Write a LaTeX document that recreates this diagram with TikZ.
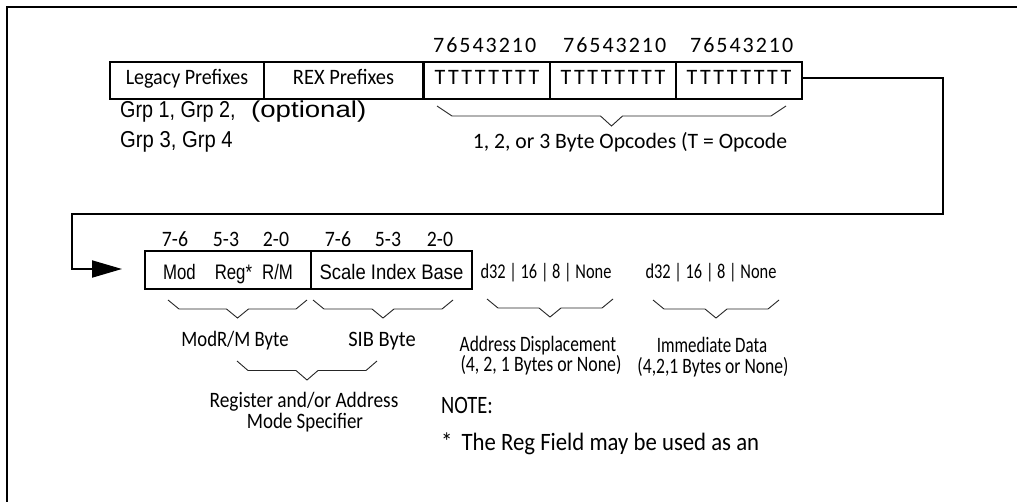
\documentclass[tikz,border=0pt]{standalone}
\usepackage{fontspec}
\usepackage{graphicx}
\usetikzlibrary{arrows.meta}
\newfontfamily\icf{Carlito}
\newfontfamily\icd[LetterSpace=9]{Carlito}
\newfontfamily\icT[LetterSpace=11]{Carlito}
\newfontfamily\arf{Liberation Sans}
\newcommand{\sx}[2]{\scalebox{#1}[1]{#2}}
\newcommand{\fsz}[1]{\fontsize{#1}{#1}\selectfont}
\newcommand{\abrace}[5]{\draw[bracel] (#1,#3) -- ++(#4,#5) -- ({(#1+#2)/2-11},{#3+#5}) -- ({(#1+#2)/2},{#3+2*#5}) -- ({(#1+#2)/2+11},{#3+#5}) -- ({#2-#4},{#3+#5}) -- (#2,#3);}
\begin{document}
\begin{tikzpicture}[x=1pt,y=-1pt,
  frameline/.style={line width=2pt},
  topbox/.style={draw, line width=2pt, inner sep=0pt, minimum height=37pt, text height=12pt, text depth=5pt},
  botbox/.style={draw, line width=2pt, inner sep=0pt, minimum height=38pt, text height=18pt, text depth=0pt},
  txt/.style={inner sep=0pt, anchor=base},
  txtl/.style={inner sep=0pt, anchor=base west},
  bracel/.style={line width=0.9pt, black!85},
  conn/.style={line width=2pt}]
\useasboundingbox (0,0) rectangle (1017,501);
\fill[white] (0,0) rectangle (1017,501);
% frame
\draw[frameline] (7,502) -- (7,7) -- (1018,7);
% top row boxes
\node[topbox, minimum width=154pt, font=\icf\fsz{22}] (legacy) at (187,80.5) {\sx{.91}{Legacy Prefixes}};
\node[topbox, minimum width=159pt, font=\icf\fsz{22}] (rex) at (343.5,80.5) {\sx{.93}{REX Prefixes}};
\node[topbox, minimum width=126pt, font=\icT\fsz{22}] (op1) at (487,80.5) {TTTTTTTT};
\node[topbox, minimum width=126pt, font=\icT\fsz{22}] (op2) at (613,80.5) {TTTTTTTT};
\node[topbox, minimum width=126pt, font=\icT\fsz{22}] (op3) at (739,80.5) {TTTTTTTT};
% bit numbers
\node[txtl, font=\icd\fsz{22}] (b1) at (433,52) {76543210};
\node[txtl, font=\icd\fsz{22}] (b2) at (563,52) {76543210};
\node[txtl, font=\icd\fsz{22}] (b3) at (690,52) {76543210};
% prefix notes
\node[txtl, font=\arf\fsz{23}] (grp1) at (120,117) {\sx{.86}{Grp 1, Grp 2,}};
\node[txtl, font=\arf\fsz{23}] (grp2) at (120,147) {\sx{.88}{Grp 3, Grp 4}};
\node[txtl, font=\arf\fsz{23}] (opt) at (251,117) {\sx{1.2}{(optional)}};
% opcode brace and label
\abrace{437}{786}{106}{15}{10}
\node[txt, font=\icf\fsz{22}] (opc) at (630,148) {\sx{.985}{1, 2, or 3 Byte Opcodes (T = Opcode}};
% connector
\coordinate (r1) at (943,78);
\coordinate (r2) at (943,214);
\coordinate (l1) at (72,214);
\coordinate (l2) at (72,269);
\coordinate (tip) at (122,269);
\draw[conn, -{Triangle[length=30pt,width=17pt]}] (op3.east |- r1) -- (r1) -- (r2) -- (l1) -- (l2) -- (tip);
% bottom boxes
\node[botbox, minimum width=166pt, font=\arf\fsz{21}] (modrm) at (228,270) {\sx{.8}{Mod}\hspace{19pt}\sx{.8}{Reg*}\hspace{10pt}\sx{.8}{R/M}};
\node[botbox, minimum width=161pt, font=\arf\fsz{21}] (sib) at (391.5,270) {\sx{.88}{Scale Index Base}};
% bit field labels
\node[txt, font=\icf\fsz{22}] (m1) at (175,246) {\sx{.9}{7-6}};
\node[txt, font=\icf\fsz{22}] (m2) at (226,246) {\sx{.9}{5-3}};
\node[txt, font=\icf\fsz{22}] (m3) at (276,246) {\sx{.9}{2-0}};
\node[txt, font=\icf\fsz{22}] (s1) at (338,246) {\sx{.9}{7-6}};
\node[txt, font=\icf\fsz{22}] (s2) at (388,246) {\sx{.9}{5-3}};
\node[txt, font=\icf\fsz{22}] (s3) at (440,246) {\sx{.9}{2-0}};
% displacement / immediate
\node[txt, font=\icf\fsz{21}] (disp) at (546,278) {\sx{.78}{d32 | 16 | 8 | None}};
\node[txt, font=\icf\fsz{21}] (imm) at (711,278) {\sx{.78}{d32 | 16 | 8 | None}};
% braces
\abrace{168}{307}{300}{11}{9}
\abrace{313}{453}{300}{11}{9}
\abrace{487}{613}{299}{11}{9}
\abrace{653}{779}{300}{11}{9}
\abrace{237}{377}{361}{11}{9.5}
% labels
\node[txt, font=\icf\fsz{22}] (modrmlbl) at (235,346) {\sx{.85}{ModR/M Byte}};
\node[txt, font=\icf\fsz{22}] (siblbl) at (382,346) {\sx{.93}{SIB Byte}};
\node[txt, font=\icf\fsz{22}] (displbl1) at (538,351) {\sx{.79}{Address Displacement}};
\node[txt, font=\icf\fsz{22}] (displbl2) at (541,371) {\sx{.81}{(4, 2, 1 Bytes or None)}};
\node[txt, font=\icf\fsz{22}] (immlbl1) at (712,352) {\sx{.77}{Immediate Data}};
\node[txt, font=\icf\fsz{22}] (immlbl2) at (713,373) {\sx{.8}{(4,2,1 Bytes or None)}};
\node[txt, font=\icf\fsz{22}] (reglbl1) at (304,407) {\sx{.88}{Register and/or Address}};
\node[txt, font=\icf\fsz{22}] (reglbl2) at (305,428) {\sx{.86}{Mode Specifier}};
% note
\node[txtl, font=\icf\fsz{25}] (note) at (441,413) {\sx{.82}{NOTE:}};
\node[txtl, font=\icf\fsz{25}] (notetext) at (441,450) {\sx{.91}{*\hspace{10pt}The Reg Field may be used as an}};
\end{tikzpicture}
\end{document}
